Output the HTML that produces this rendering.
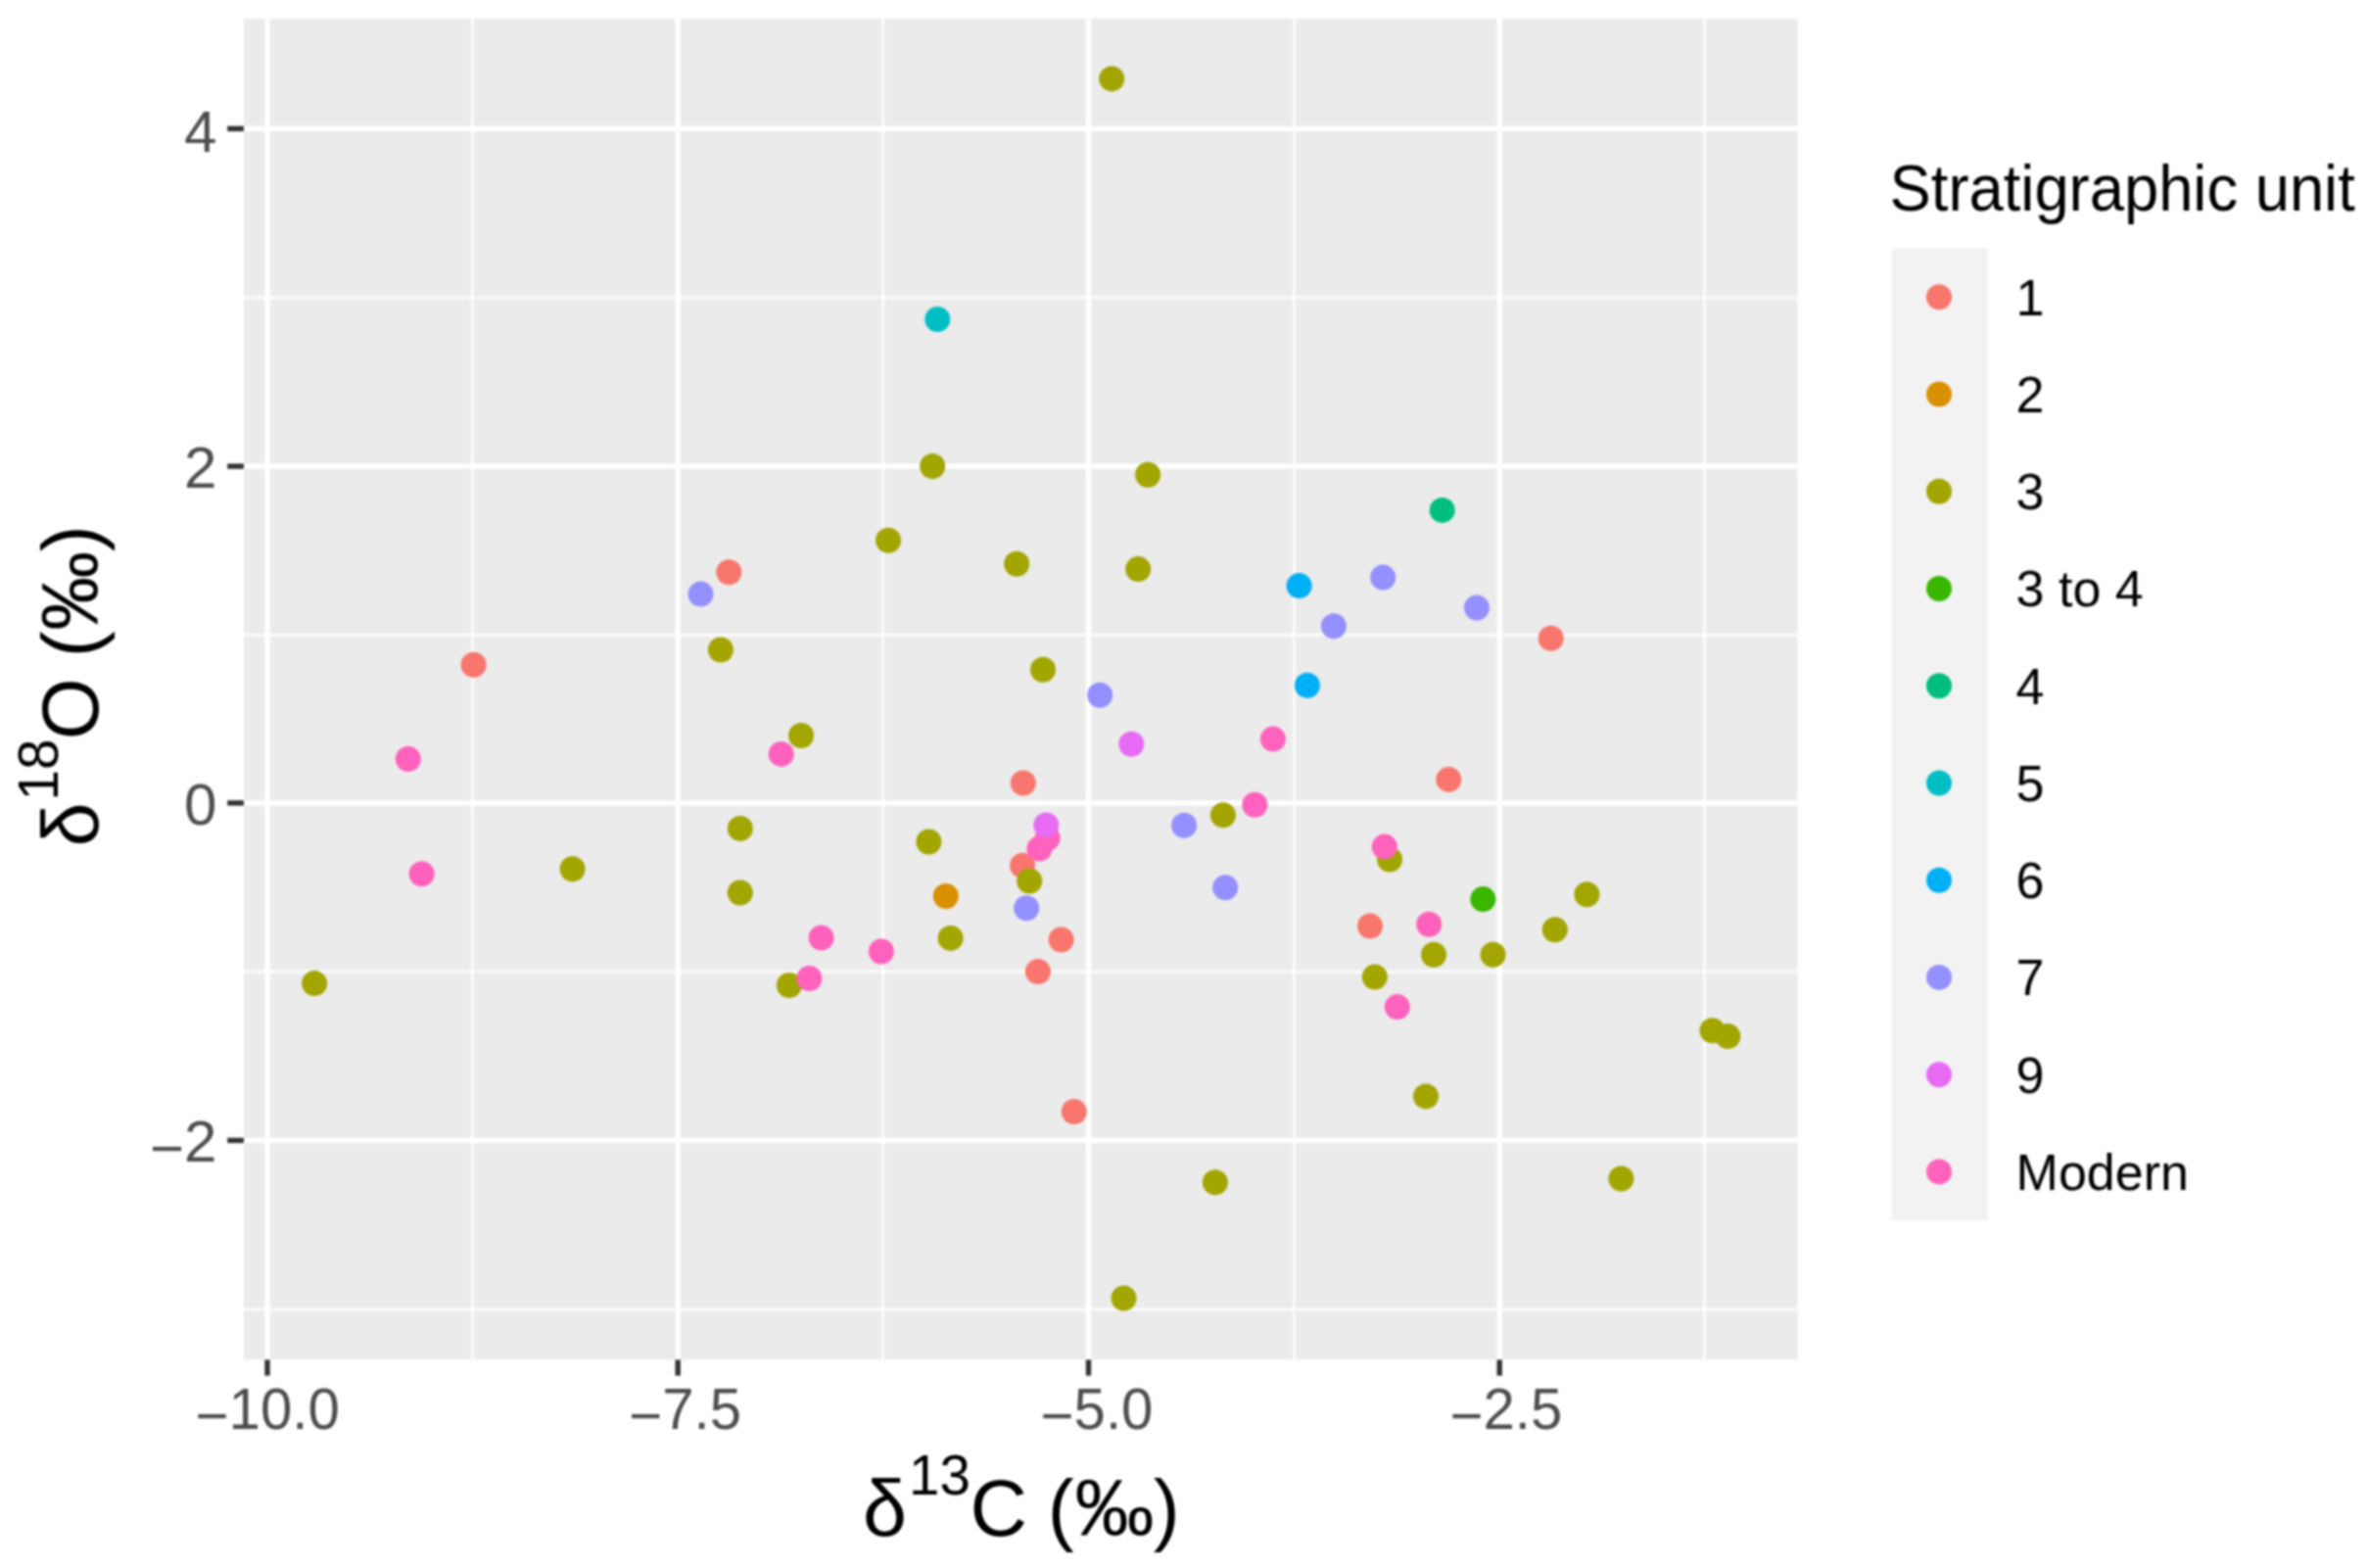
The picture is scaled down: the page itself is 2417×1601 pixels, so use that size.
<!DOCTYPE html>
<html lang="en"><head><meta charset="utf-8"><title>Stable isotopes by stratigraphic unit</title>
<style>html,body{margin:0;padding:0;background:#fff}svg{display:block}text{font-family:"Liberation Sans",sans-serif}.at{font-size:60px;fill:#4d4d4d}.lt{font-size:52px;fill:#000}.ti{font-size:81px;fill:#000}.su{font-size:56.5px}.lg{font-size:66px;fill:#000}</style></head><body>
<svg width="2417" height="1601" viewBox="0 0 2417 1601">
<rect width="2417" height="1601" fill="#fff"/>
<defs><filter id="soft" x="0" y="0" width="100%" height="100%" filterUnits="userSpaceOnUse" color-interpolation-filters="sRGB"><feGaussianBlur stdDeviation="0.9"/></filter></defs>
<g filter="url(#soft)">
<rect x="-10" y="-10" width="2437" height="1621" fill="#fff"/>
<rect x="248.9" y="19.1" width="1586.8" height="1369.3" fill="#ebebeb"/>
<g stroke="#fff" stroke-width="3.2" stroke-opacity="0.8">
<line x1="248.9" x2="1835.7" y1="303.8" y2="303.8"/>
<line x1="248.9" x2="1835.7" y1="648.3" y2="648.3"/>
<line x1="248.9" x2="1835.7" y1="992.1" y2="992.1"/>
<line x1="248.9" x2="1835.7" y1="1336.9" y2="1336.9"/>
<line y1="19.1" y2="1388.4" x1="482.5" x2="482.5"/>
<line y1="19.1" y2="1388.4" x1="901.6" x2="901.6"/>
<line y1="19.1" y2="1388.4" x1="1321.4" x2="1321.4"/>
<line y1="19.1" y2="1388.4" x1="1740.6" x2="1740.6"/>
</g>
<g stroke="#fff" stroke-width="5.4">
<line x1="248.9" x2="1835.7" y1="131.4" y2="131.4"/>
<line x1="248.9" x2="1835.7" y1="476.1" y2="476.1"/>
<line x1="248.9" x2="1835.7" y1="819.9" y2="819.9"/>
<line x1="248.9" x2="1835.7" y1="1164.4" y2="1164.4"/>
<line y1="19.1" y2="1388.4" x1="273.0" x2="273.0"/>
<line y1="19.1" y2="1388.4" x1="692.2" x2="692.2"/>
<line y1="19.1" y2="1388.4" x1="1111.5" x2="1111.5"/>
<line y1="19.1" y2="1388.4" x1="1531.2" x2="1531.2"/>
</g>
<g fill="#F8766D">
<circle cx="744.3" cy="584.2" r="13.0"/>
<circle cx="483.6" cy="678.8" r="13.0"/>
<circle cx="1044.8" cy="799.5" r="13.0"/>
<circle cx="1044.1" cy="883.7" r="13.0"/>
<circle cx="1083.6" cy="959.5" r="13.0"/>
<circle cx="1059.9" cy="992.1" r="13.0"/>
<circle cx="1096.8" cy="1135.0" r="13.0"/>
<circle cx="1583.7" cy="651.7" r="13.0"/>
<circle cx="1479.3" cy="795.9" r="13.0"/>
<circle cx="1399.0" cy="945.5" r="13.0"/>
</g>
<g fill="#D89000">
<circle cx="965.8" cy="915.0" r="13.0"/>
</g>
<g fill="#A3A500">
<circle cx="1135.2" cy="80.4" r="13.0"/>
<circle cx="952.2" cy="476.0" r="13.0"/>
<circle cx="1172.1" cy="484.7" r="13.0"/>
<circle cx="907.1" cy="551.8" r="13.0"/>
<circle cx="1038.2" cy="575.8" r="13.0"/>
<circle cx="1162.2" cy="581.1" r="13.0"/>
<circle cx="735.9" cy="663.5" r="13.0"/>
<circle cx="1065.0" cy="683.7" r="13.0"/>
<circle cx="818.1" cy="751.0" r="13.0"/>
<circle cx="755.8" cy="845.9" r="13.0"/>
<circle cx="584.6" cy="887.2" r="13.0"/>
<circle cx="755.8" cy="911.5" r="13.0"/>
<circle cx="805.9" cy="1006.0" r="13.0"/>
<circle cx="321.1" cy="1004.1" r="13.0"/>
<circle cx="1248.9" cy="832.2" r="13.0"/>
<circle cx="1051.2" cy="899.5" r="13.0"/>
<circle cx="948.4" cy="859.5" r="13.0"/>
<circle cx="970.6" cy="957.9" r="13.0"/>
<circle cx="1419.0" cy="877.5" r="13.0"/>
<circle cx="1403.8" cy="997.6" r="13.0"/>
<circle cx="1620.4" cy="913.2" r="13.0"/>
<circle cx="1587.8" cy="949.2" r="13.0"/>
<circle cx="1464.0" cy="974.7" r="13.0"/>
<circle cx="1524.5" cy="974.7" r="13.0"/>
<circle cx="1748.5" cy="1052.2" r="13.0"/>
<circle cx="1764.3" cy="1058.1" r="13.0"/>
<circle cx="1456.0" cy="1119.4" r="13.0"/>
<circle cx="1655.4" cy="1203.5" r="13.0"/>
<circle cx="1240.8" cy="1207.2" r="13.0"/>
<circle cx="1147.5" cy="1325.6" r="13.0"/>
</g>
<g fill="#39B600">
<circle cx="1514.3" cy="918.1" r="13.0"/>
</g>
<g fill="#00BF7D">
<circle cx="1472.7" cy="520.9" r="13.0"/>
</g>
<g fill="#00BFC4">
<circle cx="957.3" cy="326.0" r="13.0"/>
</g>
<g fill="#00B0F6">
<circle cx="1326.6" cy="598.1" r="13.0"/>
<circle cx="1334.9" cy="699.7" r="13.0"/>
</g>
<g fill="#9590FF">
<circle cx="715.5" cy="606.6" r="13.0"/>
<circle cx="1412.2" cy="589.6" r="13.0"/>
<circle cx="1361.9" cy="639.3" r="13.0"/>
<circle cx="1123.2" cy="709.7" r="13.0"/>
<circle cx="1507.9" cy="620.6" r="13.0"/>
<circle cx="1209.1" cy="842.7" r="13.0"/>
<circle cx="1048.2" cy="927.3" r="13.0"/>
<circle cx="1251.2" cy="906.2" r="13.0"/>
</g>
<g fill="#FF62BC">
<circle cx="797.7" cy="769.9" r="13.0"/>
<circle cx="416.8" cy="775.0" r="13.0"/>
<circle cx="430.6" cy="892.3" r="13.0"/>
<circle cx="838.6" cy="957.6" r="13.0"/>
<circle cx="826.4" cy="999.0" r="13.0"/>
<circle cx="1299.9" cy="754.6" r="13.0"/>
<circle cx="1281.3" cy="821.7" r="13.0"/>
<circle cx="1069.6" cy="855.7" r="13.0"/>
<circle cx="1061.4" cy="866.6" r="13.0"/>
<circle cx="899.9" cy="971.5" r="13.0"/>
<circle cx="1413.7" cy="864.6" r="13.0"/>
<circle cx="1459.2" cy="943.8" r="13.0"/>
<circle cx="1426.8" cy="1028.1" r="13.0"/>
</g>
<g fill="#E76BF3">
<circle cx="1155.3" cy="759.7" r="13.0"/>
<circle cx="1068.3" cy="842.4" r="13.0"/>
</g>
<g stroke="#333" stroke-width="5.4">
<line x1="232.2" x2="248.9" y1="131.4" y2="131.4"/>
<line x1="232.2" x2="248.9" y1="476.1" y2="476.1"/>
<line x1="232.2" x2="248.9" y1="819.9" y2="819.9"/>
<line x1="232.2" x2="248.9" y1="1164.4" y2="1164.4"/>
<line y1="1388.4" y2="1404.6" x1="273.0" x2="273.0"/>
<line y1="1388.4" y2="1404.6" x1="692.2" x2="692.2"/>
<line y1="1388.4" y2="1404.6" x1="1111.5" x2="1111.5"/>
<line y1="1388.4" y2="1404.6" x1="1531.2" x2="1531.2"/>
</g>
<text class="at" x="221.3" y="154.7" text-anchor="end">4</text>
<text class="at" x="221.3" y="497.9" text-anchor="end">2</text>
<text class="at" x="221.3" y="841.7" text-anchor="end">0</text>
<text class="at" x="221.3" y="1186.2" text-anchor="end"><tspan dy="6.6">−</tspan><tspan dy="-6.6">2</tspan></text>
<text class="at" x="273.2" y="1459.2" text-anchor="middle" textLength="147.2" lengthAdjust="spacingAndGlyphs"><tspan dy="6.6">−</tspan><tspan dy="-6.6">10.0</tspan></text>
<text class="at" x="699.6" y="1459.2" text-anchor="middle" textLength="114.8" lengthAdjust="spacingAndGlyphs"><tspan dy="6.6">−</tspan><tspan dy="-6.6">7.5</tspan></text>
<text class="at" x="1120.0" y="1459.2" text-anchor="middle" textLength="114.8" lengthAdjust="spacingAndGlyphs"><tspan dy="6.6">−</tspan><tspan dy="-6.6">5.0</tspan></text>
<text class="at" x="1537.9" y="1459.2" text-anchor="middle" textLength="114.8" lengthAdjust="spacingAndGlyphs"><tspan dy="6.6">−</tspan><tspan dy="-6.6">2.5</tspan></text>
<text class="ti" x="881.0" y="1567.6">δ<tspan class="su" dx="2" dy="-41.7">13</tspan><tspan dx="-0.5" dy="41.7">C</tspan><tspan dx="-1.7"> (</tspan><tspan dx="0.7">‰</tspan><tspan dx="-0.7">)</tspan></text>
<text class="ti" transform="translate(100.3,864.6) rotate(-90)">δ<tspan class="su" dx="2" dy="-41.7">18</tspan><tspan dx="-0.5" dy="41.7">O</tspan><tspan dx="-1.7"> (</tspan><tspan dx="0.7">‰</tspan><tspan dx="-0.7">)</tspan></text>
<text class="lg" x="1929.6" y="215.4" textLength="475.2" lengthAdjust="spacingAndGlyphs">Stratigraphic unit</text>
<rect x="1931.6" y="253.7" width="98.4" height="992.3" fill="#f2f2f2"/>
<circle cx="1980.0" cy="303.3" r="13.0" fill="#F8766D"/>
<text class="lt" x="2058.6" y="321.7">1</text>
<circle cx="1980.0" cy="402.5" r="13.0" fill="#D89000"/>
<text class="lt" x="2058.6" y="420.9">2</text>
<circle cx="1980.0" cy="501.8" r="13.0" fill="#A3A500"/>
<text class="lt" x="2058.6" y="520.2">3</text>
<circle cx="1980.0" cy="601.0" r="13.0" fill="#39B600"/>
<text class="lt" x="2058.6" y="619.4">3 to 4</text>
<circle cx="1980.0" cy="700.2" r="13.0" fill="#00BF7D"/>
<text class="lt" x="2058.6" y="718.6">4</text>
<circle cx="1980.0" cy="799.5" r="13.0" fill="#00BFC4"/>
<text class="lt" x="2058.6" y="817.9">5</text>
<circle cx="1980.0" cy="898.7" r="13.0" fill="#00B0F6"/>
<text class="lt" x="2058.6" y="917.1">6</text>
<circle cx="1980.0" cy="997.9" r="13.0" fill="#9590FF"/>
<text class="lt" x="2058.6" y="1016.3">7</text>
<circle cx="1980.0" cy="1097.2" r="13.0" fill="#E76BF3"/>
<text class="lt" x="2058.6" y="1115.6">9</text>
<circle cx="1980.0" cy="1196.4" r="13.0" fill="#FF62BC"/>
<text class="lt" x="2058.6" y="1214.8">Modern</text>
</g>
</svg></body></html>
